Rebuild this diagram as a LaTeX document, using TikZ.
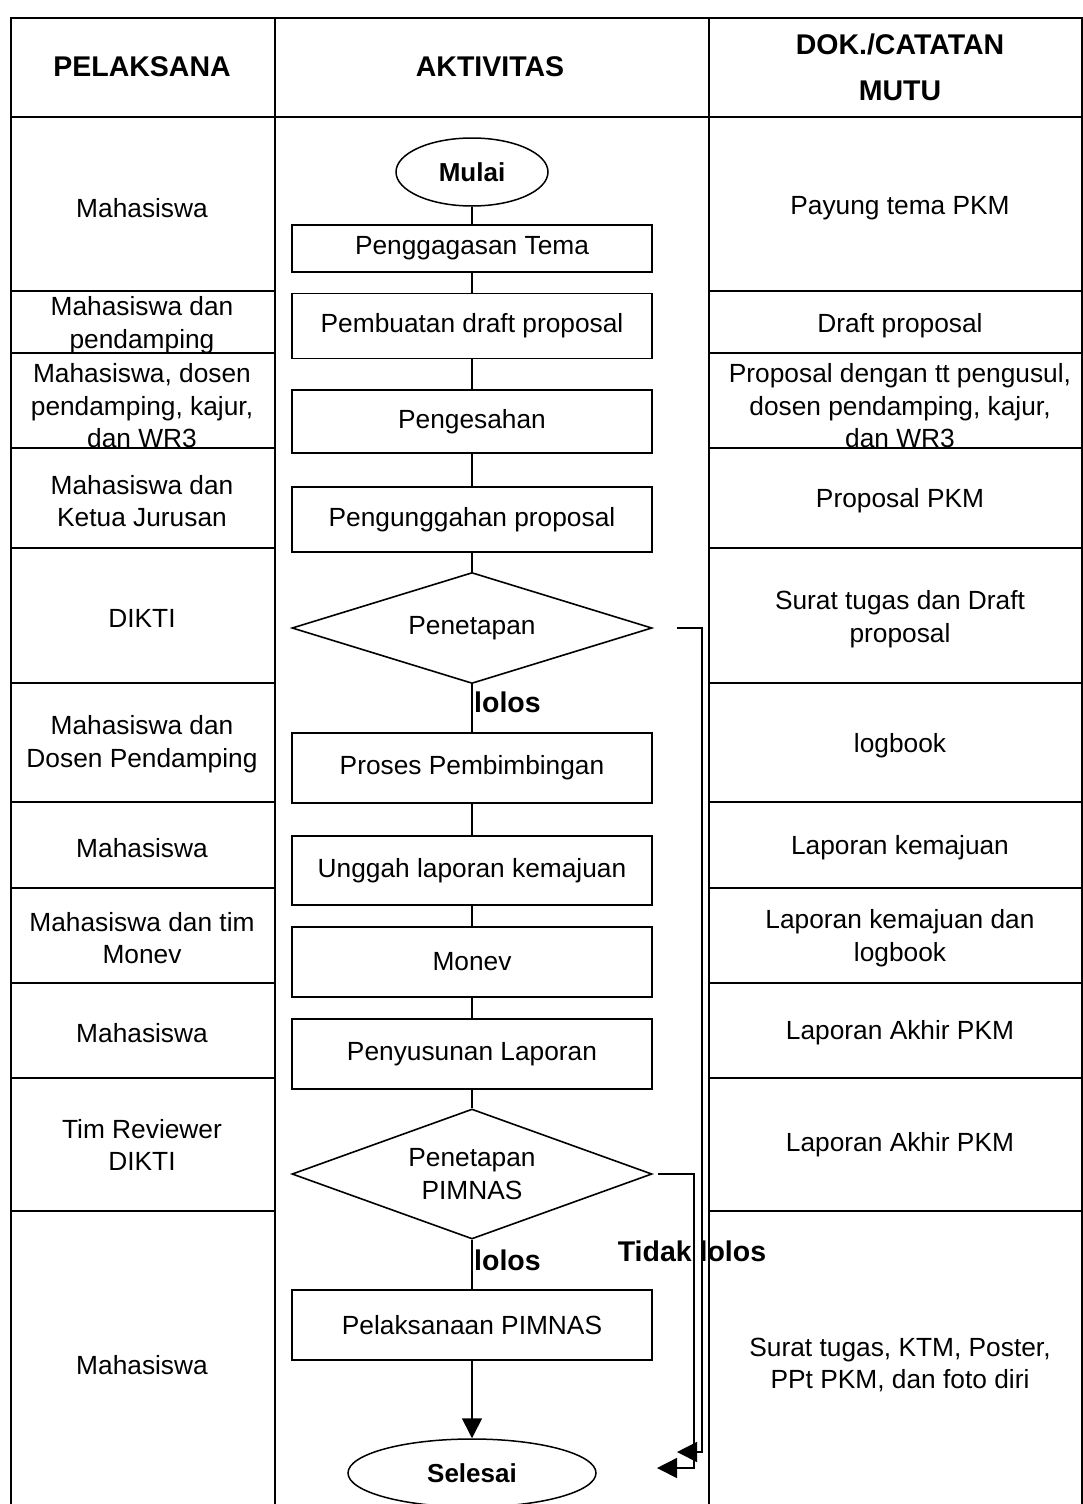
\documentclass[tikz,border=0pt]{standalone}
\usepackage{fontspec}
\setmainfont{Liberation Sans}
\usetikzlibrary{shapes.geometric,arrows.meta,calc}
\newcommand{\regf}{\fontsize{26.3}{32.5}\selectfont}
\newcommand{\boldf}{\fontsize{28.5}{46}\selectfont\bfseries}
\newcommand{\termf}{\fontsize{26}{32}\selectfont\bfseries}
\begin{document}
\begin{tikzpicture}[x=1pt,y=-1pt,
  tline/.style={line width=2.2pt},
  lbl/.style={align=center,font=\regf,inner sep=0pt,yshift=-3pt},
  hdr/.style={align=center,font=\boldf,inner sep=0pt},
  flag/.style={font=\boldf,inner sep=0pt},
  proc/.style={draw,line width=1.8pt,minimum width=360pt,minimum height=#1,inner sep=0pt,font=\regf,align=center},
  term/.style={draw,ellipse,line width=1.5pt,inner sep=0pt,font=\termf},
  dec/.style={draw,diamond,aspect=3.2,line width=1.6pt,minimum width=360pt,minimum height=#1,inner sep=0pt,font=\regf,align=center},
  conn/.style={line width=1.6pt},
  arr/.style={line width=1.6pt,-{Triangle[length=20pt,width=20pt]}}
]
\useasboundingbox (0,0) rectangle (1082,1504);
\fill[white] (0,0) rectangle (1082,1504);

% table
\draw[tline] (11,1504) -- (11,18) -- (1082,18) -- (1082,1504);
\draw[tline] (275,18) -- (275,1504);
\draw[tline] (709,18) -- (709,1504);
\draw[tline] (11,117) -- (1082,117);
\foreach \yy in {291,353,448,548,683,802,888,983,1078,1211}{
  \draw[tline] (11,\yy) -- (275,\yy);
  \draw[tline] (709,\yy) -- (1082,\yy);
}

% headers
\node[hdr] (h1) at (142,67) {PELAKSANA};
\node[hdr] (h2) at (490,67) {AKTIVITAS};
\node[hdr] (h3) at (900,67) {DOK./CATATAN\\MUTU};

% left column
\node[lbl] (l1) at (142,205) {Mahasiswa};
\node[lbl] (l2) at (142,322) {Mahasiswa dan\\pendamping};
\node[lbl] (l3) at (142,403) {Mahasiswa, dosen\\pendamping, kajur,\\dan WR3};
\node[lbl] (l4) at (142,498) {Mahasiswa dan\\Ketua Jurusan};
\node[lbl] (l5) at (142,615) {DIKTI};
\node[lbl] (l6) at (142,741) {Mahasiswa dan\\Dosen Pendamping};
\node[lbl] (l7) at (142,845) {Mahasiswa};
\node[lbl] (l8) at (142,935) {Mahasiswa dan tim\\Monev};
\node[lbl] (l9) at (142,1030) {Mahasiswa};
\node[lbl] (l10) at (142,1142) {Tim Reviewer\\DIKTI};
\node[lbl] (l11) at (142,1362) {Mahasiswa};

% right column
\node[lbl] (r1) at (900,205) {Payung tema PKM};
\node[lbl] (r2) at (900,323) {Draft proposal};
\node[lbl] (r3) at (900,403) {Proposal dengan tt pengusul,\\dosen pendamping, kajur,\\dan WR3};
\node[lbl] (r4) at (900,498) {Proposal PKM};
\node[lbl] (r5) at (900,616) {Surat tugas dan Draft\\proposal};
\node[lbl] (r6) at (900,743) {logbook};
\node[lbl] (r7) at (900,845) {Laporan kemajuan};
\node[lbl] (r8) at (900,935) {Laporan kemajuan dan\\logbook};
\node[lbl] (r9) at (900,1030) {Laporan Akhir PKM};
\node[lbl] (r10) at (900,1142) {Laporan Akhir PKM};
\node[lbl] (r11) at (900,1362) {Surat tugas, KTM, Poster,\\PPt PKM, dan foto diri};

% activities
\node[term,minimum width=152pt,minimum height=68pt] (mulai) at (472,172) {Mulai};
\node[proc=47pt] (a1) at (472,248.5) {Penggagasan Tema};
\node[proc=65pt] (a2) at (472,326) {Pembuatan draft proposal};
\node[proc=63pt] (a3) at (472,421.5) {Pengesahan};
\node[proc=65pt] (a4) at (472,519.5) {Pengunggahan proposal};
\node[dec=111pt] (d1) at (472,628) {Penetapan};
\node[proc=70pt] (a5) at (472,768) {Proses Pembimbingan};
\node[proc=69pt] (a6) at (472,870.5) {Unggah laporan kemajuan};
\node[proc=70pt] (a7) at (472,962) {Monev};
\node[proc=70pt] (a8) at (472,1054) {Penyusunan Laporan};
\node[dec=130pt] (d2) at (472,1174) {Penetapan\\PIMNAS};
\node[proc=70pt] (a9) at (472,1325) {Pelaksanaan PIMNAS};
\node[term,minimum width=248pt,minimum height=68pt] (selesai) at (472,1473) {Selesai};

% flow connectors
\draw[conn] (mulai.south) -- (a1.north);
\draw[conn] (a1.south) -- (a2.north);
\draw[conn] (a2.south) -- (a3.north);
\draw[conn] (a3.south) -- (a4.north);
\draw[conn] (a4.south) -- (d1.north);
\draw[conn] (d1.south) -- (a5.north);
\draw[conn] (a5.south) -- (a6.north);
\draw[conn] (a6.south) -- (a7.north);
\draw[conn] (a7.south) -- (a8.north);
\draw[conn] (a8.south) -- (d2.north);
\draw[conn] (d2.south) -- (a9.north);
\draw[arr] (a9.south) -- (selesai.north);

% labels
\node[flag,anchor=west] (lolos1) at (474,702) {lolos};
\node[flag,anchor=west] (lolos2) at (474,1260) {lolos};
\node[flag] (tidak) at (692,1251) {Tidak lolos};

% feedback lines
\coordinate (f1s) at ($(d1.east)+(24,0)$);
\coordinate (f1c) at (702,628);
\coordinate (f1e) at (677,1452);
\draw[arr] (f1s) -- (f1c) |- (f1e);
\coordinate (f2s) at ($(d2.east)+(5,0)$);
\coordinate (f2c) at (694,1174);
\coordinate (f2e) at (657,1468);
\draw[arr] (f2s) -- (f2c) |- (f2e);
\end{tikzpicture}
\end{document}
